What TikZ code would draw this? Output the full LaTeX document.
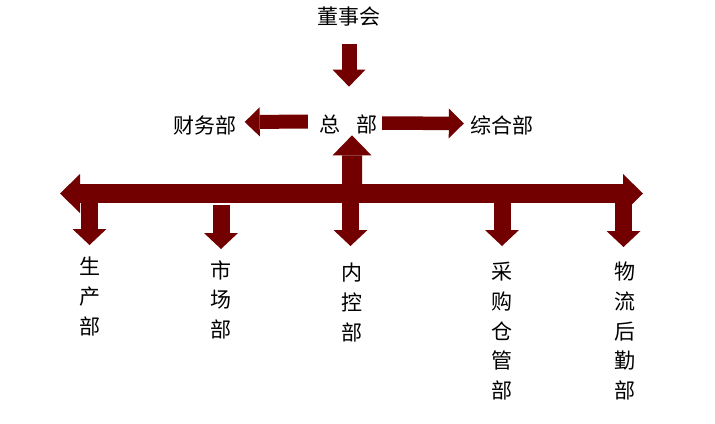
\documentclass[tikz,border=0pt]{standalone}
\usepackage{fontspec}
\setmainfont{Noto Sans CJK SC}
\usetikzlibrary{arrows.meta}
\definecolor{darkred}{RGB}{114,0,0}

\begin{document}
\begin{tikzpicture}[x=1bp,y=-1bp,
    lbl/.style={inner sep=0pt,font=\fontsize{21bp}{29.7bp}\selectfont},
    vlbl/.style={lbl,anchor=north,align=center},
    blk/.style={draw=darkred,line width=#1},
    tip/.style 2 args={-{Triangle[width=#1,length=#2,line width=0pt]}}]
    \useasboundingbox (0,0) rectangle (715,423);
    \node[lbl] (dsh) at (349,16.5) {董事会};
    \node[lbl] (zb) at (348.5,124.5) {总\hspace{17bp}部};
    \node[lbl] (cw) at (205,125) {财务部};
    \node[lbl] (zh) at (501.5,125) {综合部};
    \node[vlbl] (sc) at (89.5,257) {生\\产\\部};
    \node[vlbl] (scb) at (221,260) {市\\场\\部};
    \node[vlbl] (nk) at (352,263) {内\\控\\部};
    \node[vlbl] (cg) at (502,262) {采\\购\\仓\\管\\部};
    \node[vlbl] (wl) at (625,262) {物\\流\\后\\勤\\部};
    \coordinate (bl) at (60,193.5);
    \coordinate (br) at (643,193.5);
    \coordinate (bar) at (352,193.5);

    \draw[blk=15bp,tip={33bp}{17bp},shorten <=18bp,shorten >=28bp] (dsh.south) -- (dsh.south |- zb.north);
    \draw[blk=14bp,tip={29bp}{15bp},shorten <=11bp,shorten >=8bp] ([yshift=3bp]zb.west) -- ([yshift=3bp]cw.east);
    \draw[blk=13.5bp,tip={30bp}{15bp},shorten <=4bp,shorten >=6bp] ([yshift=1.5bp]zb.east) -- ([yshift=1.5bp]zh.west);
    \draw[blk=20bp,tip={39bp}{20bp},shorten >=1bp] (bar) -- ([xshift=3.5bp]zb.south);
    \draw[blk=19bp,{Triangle[width=39bp,length=20bp,line width=0pt]}-{Triangle[width=39bp,length=20bp,line width=0pt]}] (bl) -- (br);

    % drops to the departments
    \draw[blk=17bp,tip={34bp}{16bp},shorten >=12bp] (sc.north |- bar) -- (sc.north);
    \draw[blk=17bp,tip={34bp}{16bp},shorten <=11.5bp,shorten >=11bp] (scb.north |- bar) -- (scb.north);
    \draw[blk=17bp,tip={34bp}{16bp},shorten >=17bp] ([xshift=-1.5bp]nk.north |- bar) -- ([xshift=-1.5bp]nk.north);
    \draw[blk=17bp,tip={34bp}{16bp},shorten >=16bp] (cg.north |- bar) -- (cg.north);
    \draw[blk=17bp,tip={34bp}{16bp},shorten >=15bp] ([xshift=-1.5bp]wl.north |- bar) -- ([xshift=-1.5bp]wl.north);
\end{tikzpicture}
\end{document}
